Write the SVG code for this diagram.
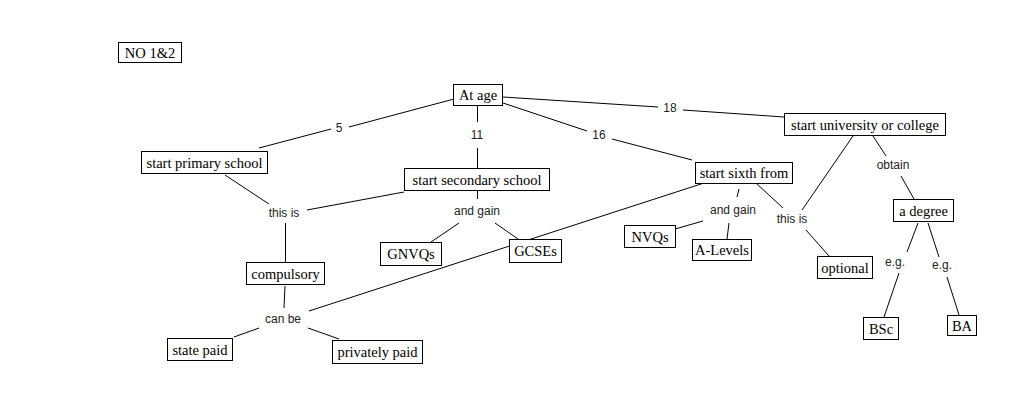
<svg xmlns="http://www.w3.org/2000/svg" width="1018" height="404" viewBox="0 0 1018 404">
<style>
.n rect{fill:#fff;stroke:#000;stroke-width:1}
.n text{font-family:"Liberation Serif","Times New Roman",serif;font-size:14.5px;fill:#000;text-anchor:middle}
.l{font-family:"Liberation Sans",Arial,sans-serif;font-size:12px;fill:#222;text-anchor:middle}
#connectors line{stroke:#000;stroke-width:1}
</style>
<rect width="1018" height="404" fill="#fff"/>
<g id="connectors">
<line x1="259" y1="148" x2="331" y2="129"/>
<line x1="349" y1="127" x2="454" y2="99"/>
<line x1="477.5" y1="106" x2="477.5" y2="122"/>
<line x1="477.5" y1="148" x2="477.5" y2="168"/>
<line x1="503" y1="103" x2="587" y2="131"/>
<line x1="612" y1="139" x2="692" y2="160"/>
<line x1="503" y1="97" x2="658" y2="107"/>
<line x1="683" y1="110" x2="784" y2="117"/>
<line x1="225" y1="175" x2="269" y2="204"/>
<line x1="307" y1="210" x2="404" y2="192"/>
<line x1="285.5" y1="223" x2="285.5" y2="262"/>
<line x1="285" y1="286" x2="284" y2="308"/>
<line x1="234" y1="337" x2="259" y2="328"/>
<line x1="308" y1="328" x2="339" y2="339"/>
<line x1="309" y1="311" x2="704" y2="183"/>
<line x1="477.5" y1="190" x2="477.5" y2="199"/>
<line x1="459" y1="223" x2="431" y2="242"/>
<line x1="495" y1="223" x2="518" y2="239"/>
<line x1="739" y1="189" x2="737" y2="197"/>
<line x1="703" y1="221" x2="675" y2="229"/>
<line x1="729" y1="223" x2="727" y2="239"/>
<line x1="757" y1="184" x2="783" y2="208"/>
<line x1="806" y1="230" x2="829" y2="256"/>
<line x1="853" y1="136" x2="802" y2="210"/>
<line x1="873" y1="136" x2="886" y2="156"/>
<line x1="901" y1="176" x2="914" y2="199"/>
<line x1="918" y1="223" x2="907" y2="252"/>
<line x1="899" y1="273" x2="884" y2="317"/>
<line x1="928" y1="223" x2="939" y2="257"/>
<line x1="947" y1="277" x2="959" y2="315"/>
</g>
<g id="labels">
<text class="l" x="339" y="132">5</text>
<text class="l" x="477" y="139">11</text>
<text class="l" x="599" y="139">16</text>
<text class="l" x="670" y="112">18</text>
<text class="l" x="284" y="217">this is</text>
<text class="l" x="477" y="215">and gain</text>
<text class="l" x="283" y="323">can be</text>
<text class="l" x="733" y="214">and gain</text>
<text class="l" x="792" y="223">this is</text>
<text class="l" x="893" y="169">obtain</text>
<text class="l" x="895" y="266">e.g.</text>
<text class="l" x="942" y="269">e.g.</text>
</g>
<g id="no12" class="n"><rect x="118.5" y="42.5" width="63" height="20"/><text x="150" y="57.5">NO 1&amp;2</text></g>
<g id="atage" class="n"><rect x="453.5" y="84.5" width="49" height="21"/><text x="478" y="100">At age</text></g>
<g id="primary" class="n"><rect x="141.5" y="151.5" width="126" height="22"/><text x="204.5" y="167.5">start primary school</text></g>
<g id="secondary" class="n"><rect x="404.5" y="168.5" width="145" height="22"/><text x="477" y="184.5">start secondary school</text></g>
<g id="sixth" class="n"><rect x="695.5" y="162.5" width="97" height="21"/><text x="744" y="178">start sixth from</text></g>
<g id="uni" class="n"><rect x="784.5" y="113.5" width="161" height="22"/><text x="865" y="129.5">start university or college</text></g>
<g id="degree" class="n"><rect x="893.5" y="199.5" width="60" height="22"/><text x="923.5" y="215.5">a degree</text></g>
<g id="bsc" class="n"><rect x="863.5" y="317.5" width="35" height="22"/><text x="881" y="333.5">BSc</text></g>
<g id="ba" class="n"><rect x="947.5" y="315.5" width="29" height="20"/><text x="962" y="330.5">BA</text></g>
<g id="optional" class="n"><rect x="817.5" y="256.5" width="55" height="22"/><text x="845" y="272.5">optional</text></g>
<g id="gnvqs" class="n"><rect x="380.5" y="242.5" width="61" height="23"/><text x="411" y="259">GNVQs</text></g>
<g id="gcses" class="n"><rect x="509.5" y="239.5" width="52" height="23"/><text x="535.5" y="256">GCSEs</text></g>
<g id="nvqs" class="n"><rect x="624.5" y="225.5" width="51" height="22"/><text x="650" y="241.5">NVQs</text></g>
<g id="alevels" class="n"><rect x="692.5" y="239.5" width="59" height="21"/><text x="722" y="255">A-Levels</text></g>
<g id="compulsory" class="n"><rect x="246.5" y="262.5" width="78" height="22"/><text x="285.5" y="278.5">compulsory</text></g>
<g id="statepaid" class="n"><rect x="167.5" y="338.5" width="65" height="22"/><text x="200" y="354.5">state paid</text></g>
<g id="privately" class="n"><rect x="332.5" y="340.5" width="90" height="23"/><text x="377.5" y="357">privately paid</text></g>
</svg>
